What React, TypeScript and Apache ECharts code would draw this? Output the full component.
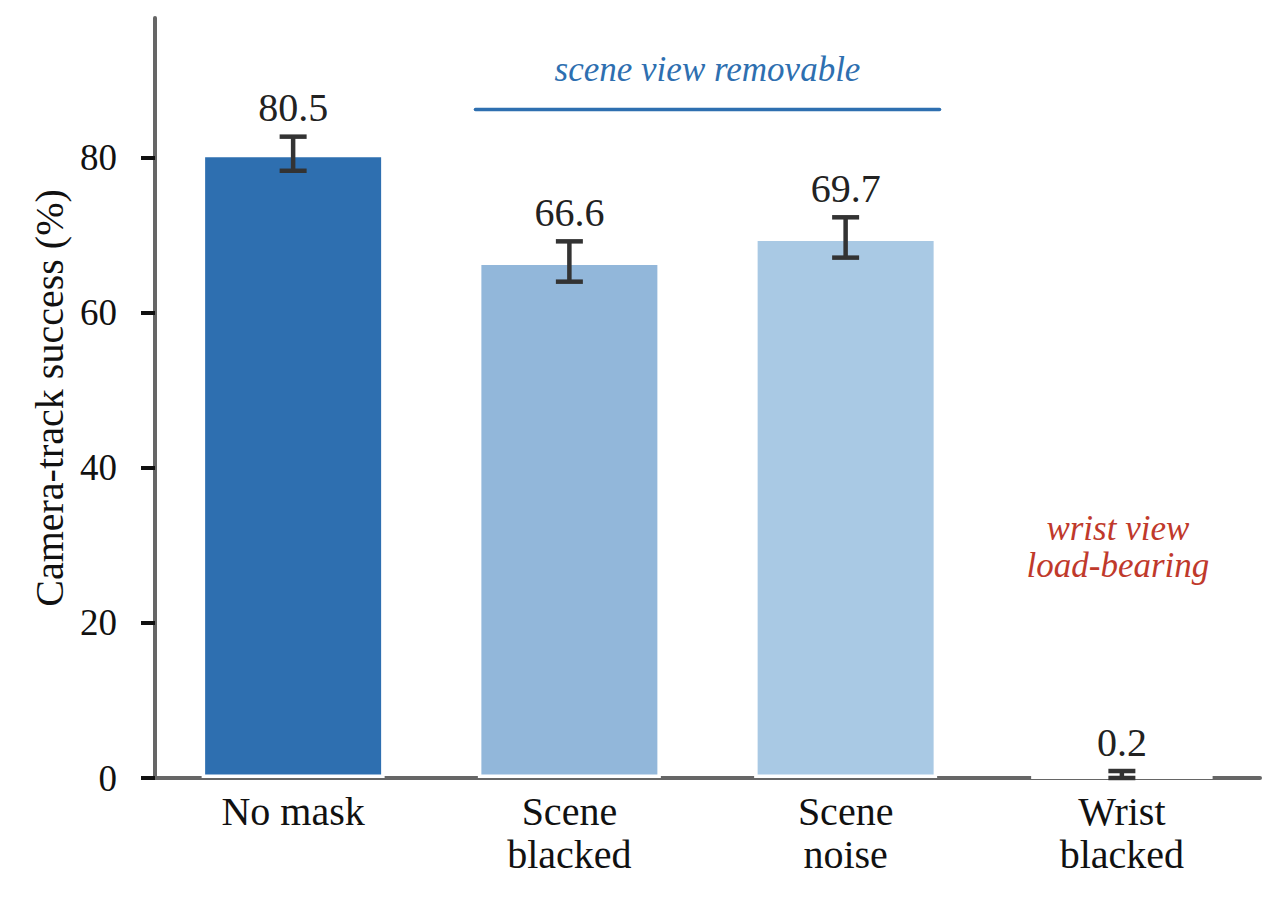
import React, { useEffect, useRef } from 'react';
import * as echarts from 'echarts';

const categories = ['No mask', 'Scene\nblacked', 'Scene\nnoise', 'Wrist\nblacked'];
const successValues = [80.5, 66.6, 69.7, 0.2];
const successErrors = [2.2, 2.6, 2.6, 0.7];
const barColors = ['#2e6fb0', '#92b7da', '#a9c9e4', '#9e9e9e'];
const yTicks = [0, 20, 40, 60, 80];

const SERIF = '"Liberation Serif", "Times New Roman", Times, serif';

const App: React.FC = () => {
  const chartRef = useRef<HTMLDivElement>(null);

  useEffect(() => {
    if (!chartRef.current) return;
    const chart = echarts.init(chartRef.current, undefined, { renderer: 'svg' });

    const option: any = {
      animation: false,
      backgroundColor: '#fff',
      grid: { left: 155, right: 15, top: 18, bottom: 120 },
      xAxis: {
        type: 'category',
        data: categories,
        axisLine: { lineStyle: { color: '#666', width: 4 } },
        axisTick: { show: false },
        axisLabel: {
          color: '#111',
          fontFamily: SERIF,
          fontSize: 40,
          lineHeight: 43,
          margin: 12,
        },
      },
      yAxis: {
        type: 'value',
        min: 0,
        max: 98,
        interval: 20,
        name: 'Camera-track success (%)',
        nameLocation: 'middle',
        nameGap: 86,
        nameTextStyle: { color: '#111', fontFamily: SERIF, fontSize: 40 },
        splitLine: { show: false },
        axisLine: { show: true, lineStyle: { color: '#666', width: 4 } },
        axisTick: {
          show: true,
          length: 14,
          customValues: yTicks,
          lineStyle: { color: '#111', width: 4 },
        },
        axisLabel: {
          color: '#111',
          fontFamily: SERIF,
          fontSize: 37,
          margin: 38,
          customValues: yTicks,
        },
      },
      series: [
        {
          type: 'bar',
          barWidth: 183,
          data: successValues.map((v, i) => ({
            value: v,
            itemStyle: { color: barColors[i] },
          })),
          itemStyle: { borderColor: '#fff', borderWidth: 3.5 },
          z: 2,
        },
        {
          // error bars + value labels
          type: 'custom',
          z: 5,
          data: successValues.map((v, i) => [i, v, successErrors[i]]),
          renderItem: (params: any, api: any) => {
            const i = api.value(0);
            const v = api.value(1);
            const e = api.value(2);
            const top = api.coord([i, v + e]);
            const bot = api.coord([i, Math.max(v - e, 0)]);
            const half = 13.5;
            const st = { stroke: '#333', lineWidth: 4.5 };
            return {
              type: 'group',
              children: [
                { type: 'line', shape: { x1: top[0], y1: top[1], x2: bot[0], y2: bot[1] }, style: st },
                { type: 'line', shape: { x1: top[0] - half, y1: top[1], x2: top[0] + half, y2: top[1] }, style: st },
                { type: 'line', shape: { x1: bot[0] - half, y1: bot[1], x2: bot[0] + half, y2: bot[1] }, style: st },
                {
                  type: 'text',
                  x: top[0],
                  y: top[1] - 9,
                  style: {
                    text: v.toFixed(1),
                    fill: '#222',
                    font: `40px ${SERIF}`,
                    align: 'center',
                    verticalAlign: 'bottom',
                  },
                },
              ],
            };
          },
        },
        {
          // annotations
          type: 'custom',
          z: 6,
          data: [[0]],
          renderItem: (params: any, api: any) => {
            const band = api.size([1, 0])[0];
            const lineY = api.coord([1, 86.2])[1];
            const x1 = api.coord([1, 0])[0] - band * 0.34;
            const x2 = api.coord([2, 0])[0] + band * 0.34;
            const txtY = api.coord([1, 91.4])[1];
            const wx = api.coord([3, 0])[0] - 4;
            const wy = api.coord([3, 29.8])[1];
            return {
              type: 'group',
              children: [
                {
                  type: 'line',
                  shape: { x1, y1: lineY, x2, y2: lineY },
                  style: { stroke: '#2e6fb0', lineWidth: 3.5, lineCap: 'round' },
                },
                {
                  type: 'text',
                  x: (x1 + x2) / 2,
                  y: txtY,
                  style: {
                    text: 'scene view removable',
                    fill: '#2e6fb0',
                    font: `italic 35px ${SERIF}`,
                    align: 'center',
                    verticalAlign: 'middle',
                  },
                },
                {
                  type: 'text',
                  x: wx,
                  y: wy,
                  style: {
                    text: 'wrist view\nload-bearing',
                    fill: '#c0392b',
                    font: `italic 35px ${SERIF}`,
                    lineHeight: 37,
                    align: 'center',
                    verticalAlign: 'middle',
                  },
                },
              ],
            };
          },
        },
      ],
    };

    chart.setOption(option);
    return () => {
      chart.dispose();
    };
  }, []);

  return (
    <div
      ref={chartRef}
      style={{ position: 'fixed', left: 0, top: 0, width: 1275, height: 898 }}
    />
  );
};

export default App;
